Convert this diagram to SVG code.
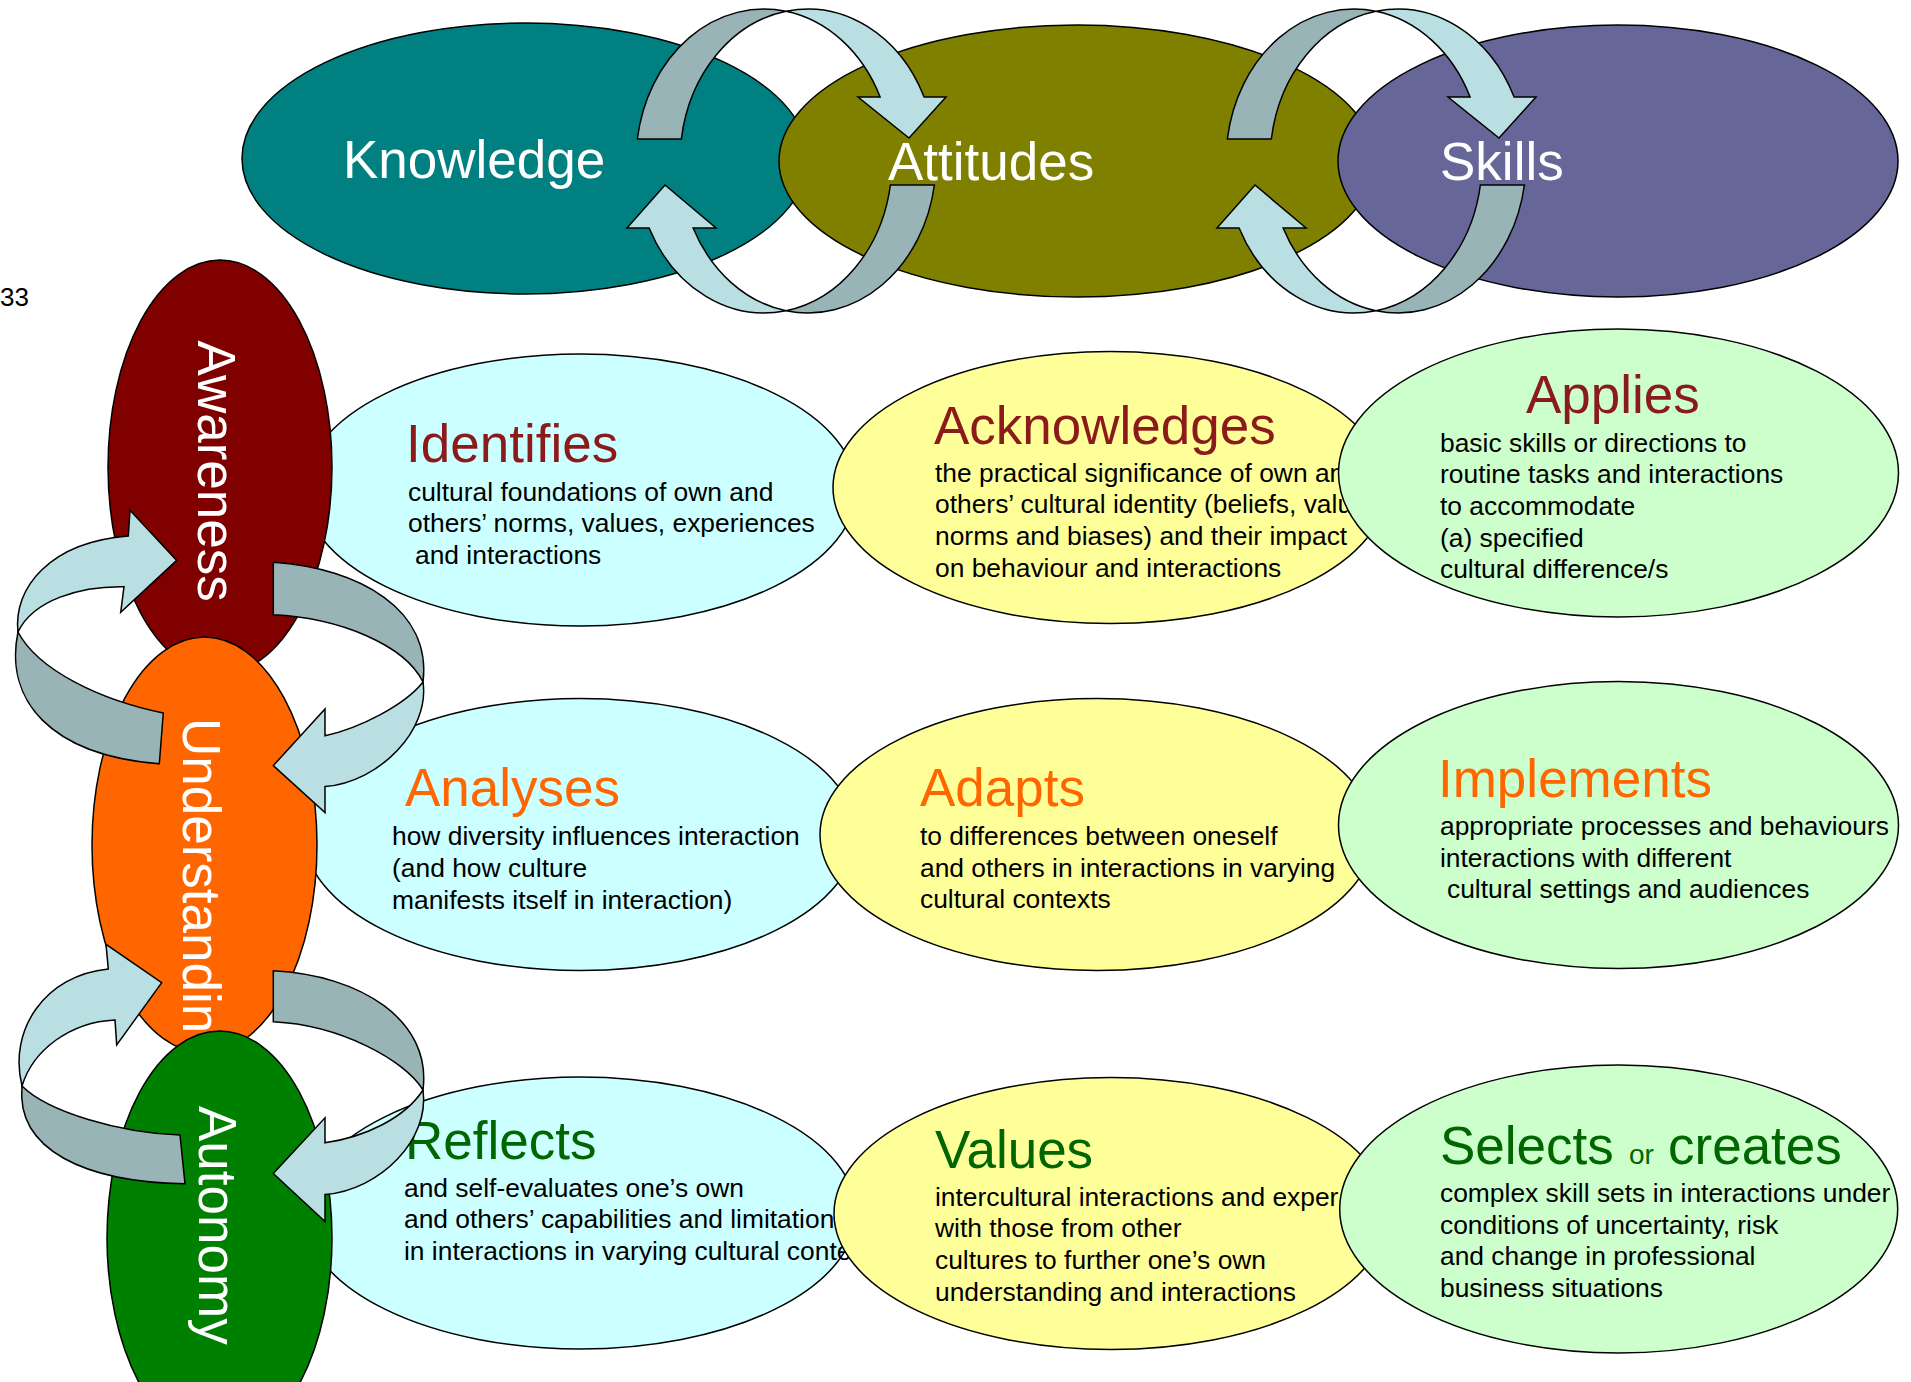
<svg xmlns="http://www.w3.org/2000/svg" width="1911" height="1382" viewBox="0 0 1911 1382">
<defs>
<style>
  .sh { stroke: #000; stroke-width: 1.5; }
  text { font-family: "Liberation Sans", Arial, Helvetica, sans-serif; }
  .big { font-size: 53px; fill: #fff; }
  .ttl { font-size: 53px; }
  .body { font-size: 26.4px; fill: #000; }
  .red { fill: #8B1A1A; }
  .org { fill: #FF6600; }
  .grn { fill: #006600; }
  .cy { fill: #CCFFFF; }
  .yl { fill: #FFFF99; }
  .gr { fill: #CCFFCC; }
  .lt { fill: #B9DFE3; stroke: #000; stroke-width: 1.5; stroke-linejoin: miter; }
  .dk { fill: #98B4B6; stroke: #000; stroke-width: 1.5; stroke-linejoin: miter; }
</style>
</defs>
<rect width="1911" height="1382" fill="#fff"/>

<text x="0" y="306" font-size="26" fill="#000">33</text>

<!-- competence domains, top row -->
<g id="knowledge">
  <ellipse cx="525" cy="158.5" rx="283" ry="135.5" fill="#008080" class="sh"/>
  <text x="343" y="178" class="big">Knowledge</text>
</g>
<g id="attitudes">
  <ellipse cx="1077" cy="161" rx="298" ry="136" fill="#808000" class="sh"/>
  <text x="888" y="180" class="big">Attitudes</text>
</g>
<g id="skills">
  <ellipse cx="1618" cy="161" rx="280" ry="136" fill="#666699" class="sh"/>
  <text x="1440" y="180" class="big">Skills</text>
</g>

<!-- level 1: awareness -->
<g id="identifies">
  <ellipse cx="580" cy="490" rx="276" ry="136" class="cy sh"/>
  <text x="406" y="462" class="ttl red">Identifies</text>
  <text class="body"><tspan x="408" y="500.5">cultural foundations of own and</tspan><tspan x="408" y="532.3">others’ norms, values, experiences</tspan><tspan x="415" y="564.1">and interactions</tspan></text>
</g>
<g id="acknowledges">
  <ellipse cx="1110" cy="487.5" rx="277" ry="136" class="yl sh"/>
  <text x="934" y="444" class="ttl red">Acknowledges</text>
  <text class="body"><tspan x="935" y="481.5">the practical significance of own an</tspan><tspan x="935" y="513.2">others’ cultural identity (beliefs, valu</tspan><tspan x="935" y="544.8">norms and biases) and their impact</tspan><tspan x="935" y="576.5">on behaviour and interactions</tspan></text>
</g>
<g id="applies">
  <ellipse cx="1618.5" cy="473" rx="280" ry="144" class="gr sh"/>
  <text x="1526" y="413.3" class="ttl red">Applies</text>
  <text class="body"><tspan x="1440" y="451.5">basic skills or directions to</tspan><tspan x="1440" y="483.2">routine tasks and interactions</tspan><tspan x="1440" y="514.8">to accommodate</tspan><tspan x="1440" y="546.5">(a) specified</tspan><tspan x="1440" y="578.2">cultural difference/s</tspan></text>
</g>

<!-- level 2: understanding -->
<g id="analyses">
  <ellipse cx="580" cy="834.5" rx="276" ry="136" class="cy sh"/>
  <text x="405" y="806" class="ttl org">Analyses</text>
  <text class="body"><tspan x="392" y="845">how diversity influences interaction</tspan><tspan x="392" y="877">(and how culture</tspan><tspan x="392" y="908.7">manifests itself in interaction)</tspan></text>
</g>
<g id="adapts">
  <ellipse cx="1097" cy="834.5" rx="277" ry="136" class="yl sh"/>
  <text x="920" y="806" class="ttl org">Adapts</text>
  <text class="body"><tspan x="920" y="845">to differences between oneself</tspan><tspan x="920" y="876.5">and others in interactions in varying</tspan><tspan x="920" y="908.3">cultural contexts</tspan></text>
</g>
<g id="implements">
  <ellipse cx="1618.5" cy="825" rx="280" ry="143.5" class="gr sh"/>
  <text x="1438" y="797" class="ttl org">Implements</text>
  <text class="body"><tspan x="1440" y="835">appropriate processes and behaviours</tspan><tspan x="1440" y="866.7">interactions with different</tspan><tspan x="1447" y="898.4">cultural settings and audiences</tspan></text>
</g>

<!-- level 3: autonomy -->
<g id="reflects">
  <ellipse cx="580" cy="1213" rx="276" ry="136" class="cy sh"/>
  <text x="405" y="1159" class="ttl grn">Reflects</text>
  <text class="body"><tspan x="404" y="1196.7">and self-evaluates one’s own</tspan><tspan x="404" y="1228.3">and others’ capabilities and limitation</tspan><tspan x="404" y="1260">in interactions in varying cultural conte</tspan></text>
</g>
<g id="values">
  <ellipse cx="1111" cy="1213.5" rx="277" ry="136" class="yl sh"/>
  <text x="935" y="1168" class="ttl grn">Values</text>
  <text class="body"><tspan x="935" y="1205.5">intercultural interactions and exper</tspan><tspan x="935" y="1237.2">with those from other</tspan><tspan x="935" y="1268.8">cultures to further one’s own</tspan><tspan x="935" y="1300.5">understanding and interactions</tspan></text>
</g>
<g id="selects">
  <ellipse cx="1618.7" cy="1209" rx="279" ry="144" class="gr sh"/>
  <text y="1164" class="ttl grn"><tspan x="1440">Selects</tspan><tspan x="1629" font-size="28">or</tspan><tspan x="1668">creates</tspan></text>
  <text class="body"><tspan x="1440" y="1202">complex skill sets in interactions under</tspan><tspan x="1440" y="1233.7">conditions of uncertainty, risk</tspan><tspan x="1440" y="1265.4">and change in professional</tspan><tspan x="1440" y="1297">business situations</tspan></text>
</g>

<!-- stage column -->
<g id="awareness">
  <ellipse cx="220" cy="467" rx="112" ry="207" fill="#800000" class="sh"/>
  <text transform="translate(198.3,340.5) rotate(90)" class="big">Awareness</text>
</g>
<g id="understanding">
  <ellipse cx="204.5" cy="845" rx="112.5" ry="208" fill="#FF6600" class="sh"/>
  <text transform="translate(183.3,718) rotate(90)" class="big">Understandin</text>
</g>
<g id="autonomy">
  <ellipse cx="219.5" cy="1238" rx="112.5" ry="207" fill="#008000" class="sh"/>
  <text transform="translate(199.3,1106) rotate(90)" class="big">Autonomy</text>
</g>

<!-- cycle arrows -->
<g id="connectors">
  <!-- Knowledge / Attitudes ring -->
  <path class="dk" d="M637.35 139 A128 152 0 0 1 786 11.3 A128 152 0 0 0 681.35 139 Z"/>
  <path class="lt" d="M786 11.3 A128 152 0 0 1 924.1 97 L946 97 L909 138 L858 97 L880.1 97 A128 152 0 0 0 786 11.3 Z"/>
  <path class="dk" d="M934.4 185 A128 152 0 0 1 786 310.7 A128 152 0 0 0 890.4 185 Z"/>
  <path class="lt" d="M786 310.7 A128 152 0 0 1 649.1 228 L627 228 L665 185 L716 228 L693.1 228 A128 152 0 0 0 786 310.7 Z"/>
  <!-- Attitudes / Skills ring -->
  <path class="dk" d="M1227.35 139 A128 152 0 0 1 1376 11.3 A128 152 0 0 0 1271.35 139 Z"/>
  <path class="lt" d="M1376 11.3 A128 152 0 0 1 1514.1 97 L1536 97 L1499 138 L1448 97 L1470.1 97 A128 152 0 0 0 1376 11.3 Z"/>
  <path class="dk" d="M1524.4 185 A128 152 0 0 1 1376 310.7 A128 152 0 0 0 1480.4 185 Z"/>
  <path class="lt" d="M1376 310.7 A128 152 0 0 1 1239.1 228 L1217 228 L1255 185 L1306 228 L1283.1 228 A128 152 0 0 0 1376 310.7 Z"/>
  <!-- Awareness / Understanding ring -->
  <path class="lt" d="M18 632 C13 588 50 542 128.3 536 L130 510.3 L176.7 560.4 L120.7 612.3 L124 586.7 C80 586 33 600 18 632 Z"/>
  <path class="dk" d="M18 632 C4 700 50 755 159.3 763.8 L163.3 713 C100 700 38 670 18 632 Z"/>
  <path class="dk" d="M273.3 562.2 C360 568 432 610 423 682 C405 645 340 618 273.3 614.8 Z"/>
  <path class="lt" d="M423 682 C430 730 380 782 325 786.6 L325 812.6 L273.3 765.6 L325 709 L325 735.8 C360 728 405 705 423 682 Z"/>
  <!-- Understanding / Autonomy ring -->
  <path class="lt" d="M22 1086 C8 1030 45 975 108.3 968.9 L106 944.3 L161.7 982.7 L116.7 1044.9 L115 1019.9 C70 1022 33 1050 22 1086 Z"/>
  <path class="dk" d="M22 1086 C16 1150 85 1182 185 1183.8 L180 1135 C120 1133 48 1112 22 1086 Z"/>
  <path class="dk" d="M273.3 970.8 C360 975 432 1020 423 1090 C405 1060 340 1025 273.3 1021.8 Z"/>
  <path class="lt" d="M423 1090 C430 1140 380 1190 325 1194.6 L325 1221.5 L273.3 1173.5 L325 1117.8 L325 1142.8 C365 1137 405 1118 423 1090 Z"/>
</g>
</svg>
